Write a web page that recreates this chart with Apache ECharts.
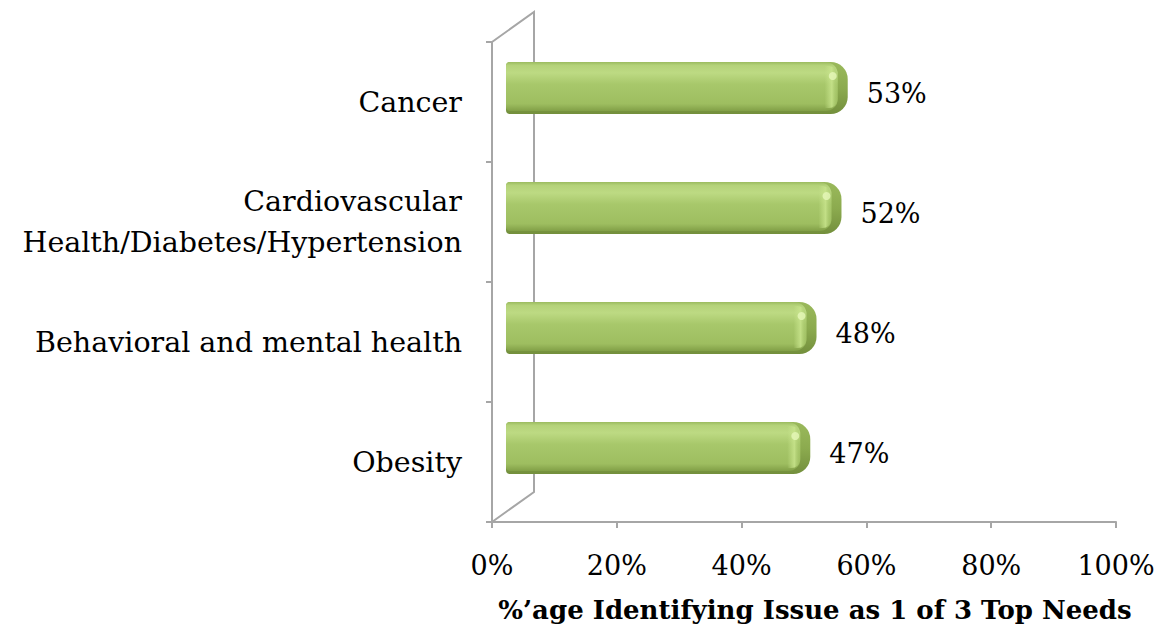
<!DOCTYPE html>
<html><head><meta charset="utf-8">
<script src="https://cdn.jsdelivr.net/npm/echarts@6/dist/echarts.min.js"></script>
<style>html,body{margin:0;padding:0;background:#fff}#c{width:1158px;height:633px}</style>
</head><body><div id="c"></div>
<script>
var categories = ['Cancer', 'Cardiovascular\nHealth/Diabetes/Hypertension', 'Behavioral and mental health', 'Obesity'];
var values = [53, 52, 48, 47];
var xTicks = [0, 20, 40, 60, 80, 100];
var axisTitle = '%\u2019age Identifying Issue as 1 of 3 Top Needs';

var FONT = 'DejaVu Serif';
var AX = '#a6a6a6';
var chart = echarts.init(document.getElementById('c'), null, {renderer: 'svg'});

function renderItem(params, api) {
  var v = api.value(0), idx = api.value(1);
  var p0 = api.coord([0, idx]), p1 = api.coord([v, idx]);
  var h = api.size([0, 1])[1] * 0.435;
  var top = p0[1] - h / 2;
  var x0 = p0[0], x1 = p1[0], cap = 11;
  var face = new echarts.graphic.LinearGradient(0, 0, 0, 1, [
    {offset: 0, color: '#9aba5e'}, {offset: 0.07, color: '#b4d279'},
    {offset: 0.22, color: '#bddA83'}, {offset: 0.45, color: '#a8c86b'},
    {offset: 0.85, color: '#9ebe60'}, {offset: 1, color: '#819f46'}]);
  var side = new echarts.graphic.LinearGradient(0, 0, 0, 1, [
    {offset: 0, color: '#9ab95c'}, {offset: 0.5, color: '#8cab4f'}, {offset: 1, color: '#738f3c'}]);
  var hl = new echarts.graphic.LinearGradient(0, 0, 1, 0, [
    {offset: 0, color: 'rgba(200,228,140,0)'}, {offset: 0.55, color: 'rgba(200,228,140,0.85)'},
    {offset: 1, color: 'rgba(160,192,100,0.2)'}]);
  return {
    type: 'group',
    children: [
      {type: 'rect', shape: {x: x0, y: top, width: x1 - x0 + cap, height: h, r: [4, 17, 17, 4]},
       style: {fill: side}},
      {type: 'rect', shape: {x: x0, y: top, width: x1 - x0 + 1, height: h - 3, r: [4, 12, 12, 4]},
       style: {fill: face}},
      {type: 'rect', shape: {x: x1 - 12, y: top + 4, width: 13, height: h - 10, r: [0, 9, 9, 0]},
       style: {fill: hl}},
      {type: 'circle', shape: {cx: x1 - 4, cy: top + h * 0.27, r: 4},
       style: {fill: 'rgba(230,248,185,0.8)'}},
      {type: 'text', x: x1 + 30, y: p0[1] + 5,
       style: {text: v + '%', font: '27px "' + FONT + '"', fill: '#000', textAlign: 'left', textVerticalAlign: 'middle'}}
    ]
  };
}

chart.setOption({
  animation: false,
  grid: [
    {left: 492, top: 42, width: 624, height: 480},
    {left: 506, top: 28, width: 624, height: 480}
  ],
  xAxis: [
    {type: 'value', gridIndex: 0, min: xTicks[0], max: xTicks[xTicks.length - 1], interval: xTicks[1] - xTicks[0],
     axisLine: {show: true, lineStyle: {color: AX, width: 2}},
     axisTick: {show: true, length: 6, lineStyle: {color: AX, width: 2}},
     splitLine: {show: false},
     axisLabel: {formatter: '{value}%', color: '#000', fontFamily: FONT, fontSize: 27, margin: 30}},
    {type: 'value', gridIndex: 1, min: 0, max: 100, show: false}
  ],
  yAxis: [
    {type: 'category', gridIndex: 0, data: categories, inverse: true,
     axisLine: {show: true, lineStyle: {color: AX, width: 2}},
     axisTick: {show: true, length: 6, lineStyle: {color: AX, width: 2}},
     axisLabel: {color: '#000', fontFamily: FONT, fontSize: 28.5, margin: 30, lineHeight: 41, align: 'right'}},
    {type: 'category', gridIndex: 1, data: categories, inverse: true, show: false}
  ],
  graphic: [
    {type: 'polyline', shape: {points: [[492, 42], [534, 12], [534, 492], [492, 522]]},
     style: {stroke: AX, lineWidth: 2, fill: null}, z: 0},
    {type: 'text', x: 815, y: 610,
     style: {text: axisTitle, font: 'bold 26px "' + FONT + '"', fill: '#000', textAlign: 'center', textVerticalAlign: 'middle'}}
  ],
  series: [{
    type: 'custom', xAxisIndex: 1, yAxisIndex: 1,
    renderItem: renderItem,
    encode: {x: 0, y: 1},
    data: values.map(function (v, i) { return [v, i]; }),
    z: 5
  }]
});
</script></body></html>
